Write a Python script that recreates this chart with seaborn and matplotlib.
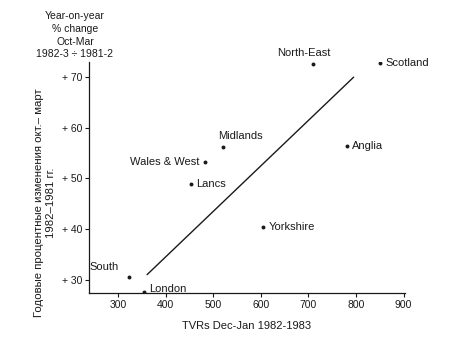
import matplotlib
matplotlib.use("Agg")
import matplotlib.pyplot as plt
import pandas as pd
import seaborn as sns

regions = ["North-East", "Scotland", "Midlands", "Anglia", "Wales & West",
           "Lancs", "Yorkshire", "South", "London"]
tvrs = [710, 851, 521, 780, 483, 454, 605, 323, 355]
change = [72.6, 72.7, 56.2, 56.4, 53.3, 48.9, 40.4, 30.6, 27.6]
# label offsets in pixels (dx, dy) and alignment
label_dx = [-9, 5, -5, 5, -6, 5, 5, -10, 5]
label_dy = [11, 0, 11, 0, 0, 0, 0, 10, 3]
label_ha = ["center", "left", "left", "left", "right", "left", "left", "right", "left"]

fit_x = [361, 795]
fit_y = [31.0, 70.0]

x_ticks = [300, 400, 500, 600, 700, 800, 900]
y_ticks = [30, 40, 50, 60, 70]
y_ticklabels = ["+ 30", "+ 40", "+ 50", "+ 60", "+ 70"]

sns.set_theme(style="ticks")
plt.rcParams["font.family"] = ["Liberation Sans", "DejaVu Sans"]
ink = "#1a1a1a"

df = pd.DataFrame({"region": regions, "tvrs": tvrs, "change": change})
fit = pd.DataFrame({"x": fit_x, "y": fit_y})

fig = plt.figure(figsize=(4.76, 3.52), dpi=100)
ax = fig.add_axes([0.187, 0.168, 0.664, 0.656])

sns.lineplot(data=fit, x="x", y="y", color=ink, lw=1.0, ax=ax)
sns.scatterplot(data=df, x="tvrs", y="change", color=ink, s=8, linewidth=0, ax=ax)

for name, x, y, dx, dy, ha in zip(regions, tvrs, change, label_dx, label_dy, label_ha):
    ax.annotate(name, (x, y), xytext=(dx, dy), textcoords="offset pixels",
                ha=ha, va="center", fontsize=8, color=ink)

ax.set_xlim(239, 903)
ax.set_ylim(27.4, 73.0)
ax.set_xticks(x_ticks)
ax.set_yticks(y_ticks)
ax.set_yticklabels(y_ticklabels)
ax.tick_params(labelsize=7.5, colors=ink, length=3, width=0.8, pad=2)
ax.set_xlabel("TVRs Dec-Jan 1982-1983", fontsize=8, color=ink, labelpad=8)
ax.set_ylabel("")
sns.despine(ax=ax)
for s in ["left", "bottom"]:
    ax.spines[s].set_color(ink)
    ax.spines[s].set_linewidth(0.9)

fig.text(75 / 476, 1 - 11 / 352, "Year-on-year\n% change\nOct-Mar\n1982-3 ÷ 1981-2",
         ha="center", va="top", fontsize=7.5, color=ink, linespacing=1.35)
fig.text(45 / 476, 1 - 203 / 352,
         "Годовые процентные изменения окт.– март\n1982–1981 гг.",
         rotation=90, ha="center", va="center", fontsize=8.2, color=ink,
         multialignment="center", linespacing=1.3)

fig.savefig("out.png", dpi=100)
